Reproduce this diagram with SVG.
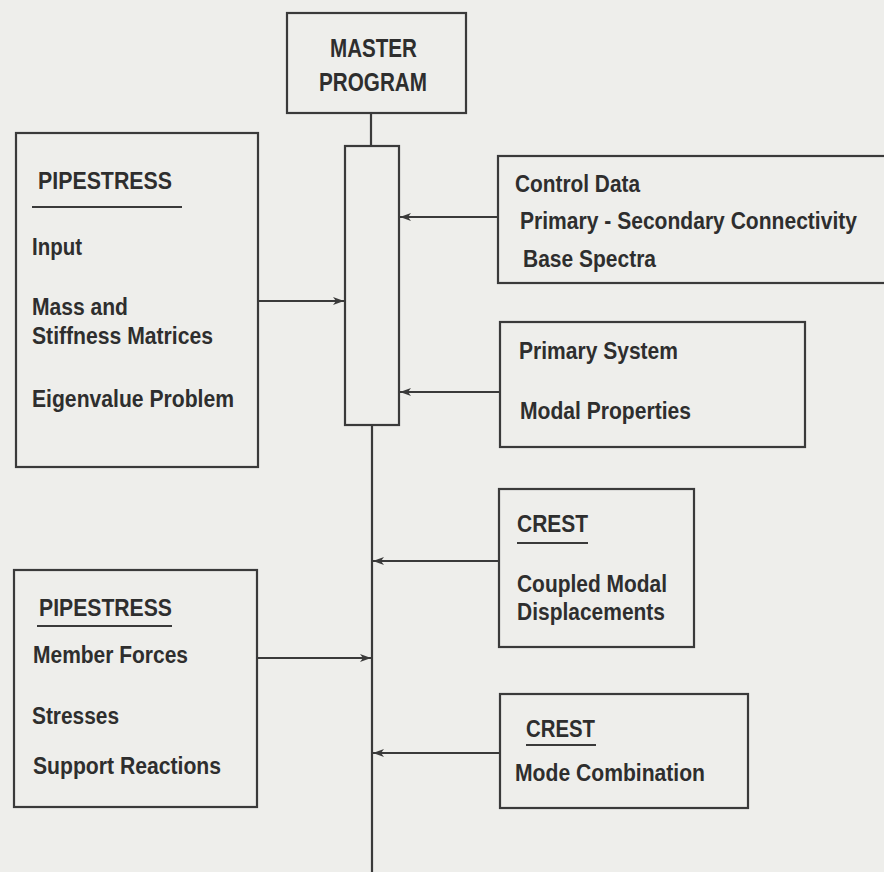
<svg xmlns="http://www.w3.org/2000/svg" width="884" height="872" viewBox="0 0 884 872">
<style>
.box{fill:none;stroke:#3a3a3a;stroke-width:2.2}
.ln{fill:none;stroke:#3a3a3a;stroke-width:2.2}
.t{font-family:"Liberation Sans",Arial,sans-serif;font-weight:bold;font-size:23px;fill:#2e2e2e}
.m{font-size:25px}
</style>
<defs>
<marker id="ah" markerWidth="12" markerHeight="10" refX="11" refY="5" orient="auto" markerUnits="userSpaceOnUse">
<path d="M0,1 L11,5 L0,9 L3,5 z" fill="#3a3a3a"/>
</marker>
</defs>
<rect width="884" height="872" fill="#eeeeeb"/>
<g id="connectors">
<line class="ln" x1="371" y1="113" x2="371" y2="146"/>
<line class="ln" x1="372" y1="425" x2="372" y2="872"/>
<line class="ln" x1="258" y1="301" x2="344" y2="301" marker-end="url(#ah)"/>
<line class="ln" x1="498" y1="217" x2="400" y2="217" marker-end="url(#ah)"/>
<line class="ln" x1="500" y1="392" x2="400" y2="392" marker-end="url(#ah)"/>
<line class="ln" x1="499" y1="561" x2="373" y2="561" marker-end="url(#ah)"/>
<line class="ln" x1="257" y1="658" x2="371" y2="658" marker-end="url(#ah)"/>
<line class="ln" x1="500" y1="753" x2="373" y2="753" marker-end="url(#ah)"/>
</g>
<g id="master">
<rect class="box" x="287" y="13" width="179" height="100"/>
<text class="t m" x="330" y="57" textLength="87" lengthAdjust="spacingAndGlyphs">MASTER</text>
<text class="t m" x="319" y="91" textLength="108" lengthAdjust="spacingAndGlyphs">PROGRAM</text>
</g>
<g id="bus">
<rect class="box" x="345" y="146" width="54" height="279"/>
</g>
<g id="pipestress1">
<rect class="box" x="16" y="133" width="242" height="334"/>
<text class="t" x="38" y="189" textLength="134" lengthAdjust="spacingAndGlyphs">PIPESTRESS</text>
<line class="ln" x1="32" y1="207" x2="182" y2="207"/>
<text class="t" x="32" y="255" textLength="50" lengthAdjust="spacingAndGlyphs">Input</text>
<text class="t" x="32" y="315" textLength="96" lengthAdjust="spacingAndGlyphs">Mass and</text>
<text class="t" x="32" y="344" textLength="181" lengthAdjust="spacingAndGlyphs">Stiffness Matrices</text>
<text class="t" x="32" y="407" textLength="202" lengthAdjust="spacingAndGlyphs">Eigenvalue Problem</text>
</g>
<g id="control">
<rect class="box" x="498" y="156" width="400" height="127"/>
<text class="t" x="515" y="192" textLength="125" lengthAdjust="spacingAndGlyphs">Control Data</text>
<text class="t" x="520" y="229" textLength="337" lengthAdjust="spacingAndGlyphs">Primary - Secondary Connectivity</text>
<text class="t" x="523" y="267" textLength="133" lengthAdjust="spacingAndGlyphs">Base Spectra</text>
</g>
<g id="primary">
<rect class="box" x="500" y="322" width="305" height="125"/>
<text class="t" x="519" y="359" textLength="159" lengthAdjust="spacingAndGlyphs">Primary System</text>
<text class="t" x="520" y="419" textLength="171" lengthAdjust="spacingAndGlyphs">Modal Properties</text>
</g>
<g id="crest1">
<rect class="box" x="499" y="489" width="195" height="158"/>
<text class="t" x="517" y="532" textLength="71" lengthAdjust="spacingAndGlyphs">CREST</text>
<line class="ln" x1="517" y1="543" x2="588" y2="543"/>
<text class="t" x="517" y="592" textLength="150" lengthAdjust="spacingAndGlyphs">Coupled Modal</text>
<text class="t" x="517" y="620" textLength="148" lengthAdjust="spacingAndGlyphs">Displacements</text>
</g>
<g id="pipestress2">
<rect class="box" x="14" y="570" width="243" height="237"/>
<text class="t" x="39" y="616" textLength="133" lengthAdjust="spacingAndGlyphs">PIPESTRESS</text>
<line class="ln" x1="37" y1="626" x2="172" y2="626"/>
<text class="t" x="33" y="663" textLength="155" lengthAdjust="spacingAndGlyphs">Member Forces</text>
<text class="t" x="32" y="724" textLength="87" lengthAdjust="spacingAndGlyphs">Stresses</text>
<text class="t" x="33" y="774" textLength="188" lengthAdjust="spacingAndGlyphs">Support Reactions</text>
</g>
<g id="crest2">
<rect class="box" x="500" y="694" width="248" height="114"/>
<text class="t" x="526" y="737" textLength="69" lengthAdjust="spacingAndGlyphs">CREST</text>
<line class="ln" x1="526" y1="745" x2="596" y2="745"/>
<text class="t" x="515" y="781" textLength="190" lengthAdjust="spacingAndGlyphs">Mode Combination</text>
</g>
</svg>
